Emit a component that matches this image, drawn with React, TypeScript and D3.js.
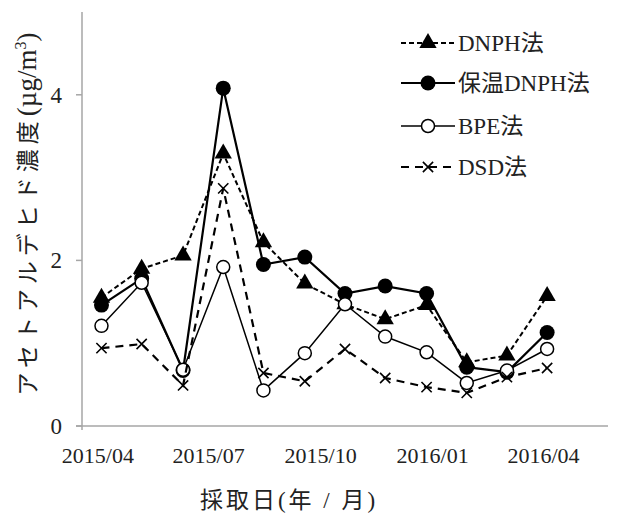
import { useRef, useEffect } from 'react';
import * as d3 from 'd3';

const sampleDates = [
  '2015-04-04', '2015-05-07', '2015-06-10', '2015-07-13', '2015-08-15', '2015-09-18',
  '2015-10-21', '2015-11-23', '2015-12-27', '2016-01-29', '2016-03-02', '2016-04-04',
];
const dnph = [1.55, 1.9, 2.06, 3.29, 2.22, 1.72, 1.47, 1.29, 1.46, 0.77, 0.85, 1.57];
const hoonDnph = [1.46, 1.78, 0.67, 4.08, 1.95, 2.04, 1.6, 1.69, 1.6, 0.71, 0.65, 1.13];
const bpe = [1.21, 1.73, 0.68, 1.92, 0.43, 0.88, 1.47, 1.08, 0.89, 0.52, 0.67, 0.93];
const dsd = [0.94, 0.99, 0.49, 2.87, 0.64, 0.54, 0.93, 0.58, 0.47, 0.4, 0.59, 0.7];
const xTickDates = ['2015-04-01', '2015-07-01', '2015-10-01', '2016-01-01', '2016-04-01'];
const yTicks = [0, 2, 4];
const seriesNames = ['DNPH法', '保温DNPH法', 'BPE法', 'DSD法'];

const SERIF = "'Liberation Serif', 'DejaVu Serif', serif";
const CJK = "'Noto Sans CJK JP', sans-serif";

function parse(s: string) {
  const [y, m, d] = s.split('-').map(Number);
  return new Date(y, m - 1, d);
}

// latin runs stay in the serif, CJK runs get the CJK font
function mixedText(t: any, str: string) {
  const runs = str.match(/[ -~µ]+|[^ -~µ]+/g) || [];
  runs.forEach(r => {
    const latin = /^[ -~µ]+$/.test(r);
    const sp = t.append('tspan').text(r);
    if (latin) sp.attr('font-family', SERIF);
    else sp.attr('font-family', CJK);
  });
}

function App() {
  const ref = useRef<SVGSVGElement>(null);

  useEffect(() => {
    d3.select(ref.current).selectAll('*').remove();
    const svg = d3.select(ref.current);

    const left = 82, right = 608, top = 12, bottom = 426;
    const x = d3.scaleTime()
      .domain([new Date(2015, 2, 19), new Date(2016, 4, 24)])
      .range([left, right]);
    const y = d3.scaleLinear().domain([0, 5]).range([bottom, top]);

    // axes
    const axisColor = '#a6a6a6';
    svg.append('line').attr('x1', left).attr('x2', left).attr('y1', top).attr('y2', bottom + 4)
      .attr('stroke', axisColor).attr('stroke-width', 1.5);
    svg.append('line').attr('x1', left - 6).attr('x2', right).attr('y1', bottom).attr('y2', bottom)
      .attr('stroke', axisColor).attr('stroke-width', 1.5);

    yTicks.forEach(t => {
      svg.append('line').attr('x1', left - 6).attr('x2', left).attr('y1', y(t)).attr('y2', y(t))
        .attr('stroke', axisColor).attr('stroke-width', 1.5);
      svg.append('text').attr('x', 62).attr('y', y(t)).attr('dy', '0.35em')
        .attr('text-anchor', 'end').attr('font-family', SERIF).attr('font-size', 23)
        .attr('fill', '#222').text(t);
    });

    const fmt = d3.timeFormat('%Y/%m');
    xTickDates.map(parse).forEach(d => {
      svg.append('text').attr('x', x(d)).attr('y', 463)
        .attr('text-anchor', 'middle').attr('font-family', SERIF).attr('font-size', 22)
        .attr('fill', '#222').text(fmt(d));
    });

    svg.append('text').attr('x', 289).attr('y', 508)
      .attr('text-anchor', 'middle').attr('font-family', SERIF).attr('font-size', 23)
      .attr('letter-spacing', 3).attr('fill', '#222')
      .call(t => mixedText(t, '採取日(年 / 月)'));

    svg.append('text').attr('transform', 'translate(36,214) rotate(-90)')
      .attr('text-anchor', 'middle').attr('font-family', SERIF).attr('font-size', 27)
      .attr('fill', '#222')
      .call(t => {
        t.append('tspan').attr('font-family', CJK).attr('font-size', 23)
          .attr('letter-spacing', 5).text('アセトアルデヒド濃度');
        t.append('tspan').text('(µg/m');
        t.append('tspan').attr('font-size', 16).attr('dy', -10).text('3');
        t.append('tspan').attr('dy', 10).text(')');
      });

    const dates = sampleDates.map(parse);
    const series = [
      { name: seriesNames[0], values: dnph, dash: '5,3', width: 2, marker: 'tri' },
      { name: seriesNames[1], values: hoonDnph, dash: null, width: 2.2, marker: 'dot' },
      { name: seriesNames[2], values: bpe, dash: null, width: 1.5, marker: 'open' },
      { name: seriesNames[3], values: dsd, dash: '8,6', width: 2.2, marker: 'cross' },
    ];

    const drawMarker = (g: any, kind: string, cx: number, cy: number) => {
      if (kind === 'tri') {
        g.append('path').attr('d', d3.symbol(d3.symbolTriangle, 130)())
          .attr('transform', `translate(${cx},${cy})`).attr('fill', '#000');
      } else if (kind === 'dot') {
        g.append('circle').attr('cx', cx).attr('cy', cy).attr('r', 7.5).attr('fill', '#000');
      } else if (kind === 'open') {
        g.append('circle').attr('cx', cx).attr('cy', cy).attr('r', 6.5)
          .attr('fill', '#fff').attr('stroke', '#000').attr('stroke-width', 1.5);
      } else {
        g.append('path').attr('d', d3.symbol(d3.symbolTimes, 70)())
          .attr('transform', `translate(${cx},${cy})`).attr('fill', 'none')
          .attr('stroke', '#000').attr('stroke-width', 1.6);
      }
    };

    const line = d3.line<number>()
      .x((_, i) => x(dates[i]))
      .y(d => y(d));

    series.forEach(s => {
      const g = svg.append('g');
      g.append('path').datum(s.values).attr('d', line)
        .attr('fill', 'none').attr('stroke', '#000').attr('stroke-width', s.width)
        .attr('stroke-dasharray', s.dash);
      s.values.forEach((v, i) => drawMarker(g, s.marker, x(dates[i]), y(v)));
    });

    // legend
    const legendY = [43, 83, 126, 167];
    series.forEach((s, i) => {
      const g = svg.append('g');
      g.append('line').attr('x1', 401).attr('x2', 455).attr('y1', legendY[i]).attr('y2', legendY[i])
        .attr('stroke', '#000').attr('stroke-width', s.width).attr('stroke-dasharray', s.dash);
      drawMarker(g, s.marker, 428, legendY[i]);
      g.append('text').attr('x', 458).attr('y', legendY[i]).attr('dy', '0.35em')
        .attr('font-family', SERIF).attr('font-size', 23).attr('fill', '#222')
        .call(t => mixedText(t, s.name));
    });
  }, []);

  return <svg ref={ref} width={632} height={514} style={{ position: 'absolute', left: 0, top: 0 }} />;
}

export default App;
